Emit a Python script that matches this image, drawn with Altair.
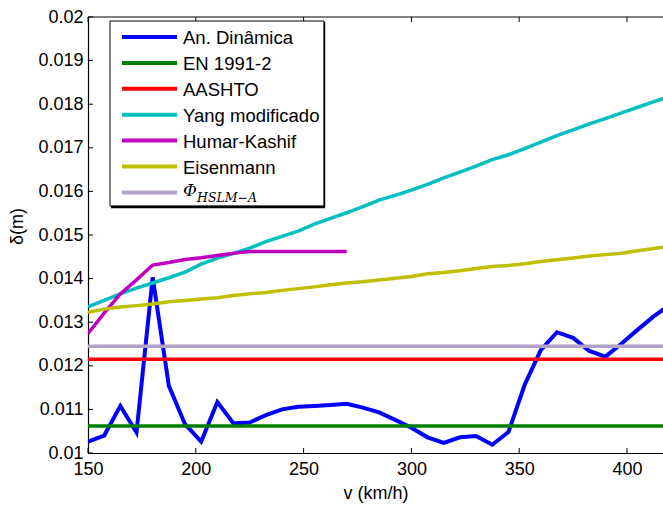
import altair as alt
import pandas as pd

# ---------------- data ----------------
speed = [150, 157.5, 165, 172.5, 180, 187.5, 195, 202.5, 210, 217.5, 225, 232.5,
         240, 247.5, 255, 262.5, 270, 277.5, 285, 292.5, 300, 307.5, 315, 322.5,
         330, 337.5, 345, 352.5, 360, 367.5, 375, 382.5, 390, 397.5, 405, 412.5, 420]

an_dinamica = [0.01026, 0.01040, 0.01108, 0.01047, 0.01403, 0.01154, 0.01066, 0.01026,
               0.01117, 0.01068, 0.01070, 0.01087, 0.01100, 0.01106, 0.01108, 0.01110,
               0.01113, 0.01104, 0.01093, 0.01076, 0.01058, 0.01036, 0.01023, 0.01036,
               0.01039, 0.01019, 0.01048, 0.01156, 0.01236, 0.01277, 0.01264, 0.01234,
               0.01221, 0.01251, 0.01283, 0.01314, 0.01340]

yang = [0.01335, 0.01350, 0.01365, 0.01378, 0.01390, 0.01402, 0.01415, 0.01433,
        0.01447, 0.01458, 0.01470, 0.01485, 0.01497, 0.01509, 0.01525, 0.01538,
        0.01551, 0.01565, 0.01580, 0.01591, 0.01603, 0.01616, 0.01631, 0.01644,
        0.01658, 0.01673, 0.01684, 0.01698, 0.01713, 0.01728, 0.01741, 0.01755,
        0.01767, 0.01780, 0.01793, 0.01806, 0.01818]

eisenmann = [0.01323, 0.01330, 0.01335, 0.01338, 0.01342, 0.01347, 0.01350, 0.01353,
             0.01356, 0.01361, 0.01365, 0.01368, 0.01373, 0.01377, 0.01381, 0.01386,
             0.01390, 0.01393, 0.01397, 0.01401, 0.01405, 0.01411, 0.01414, 0.01418,
             0.01423, 0.01428, 0.01430, 0.01434, 0.01439, 0.01443, 0.01447, 0.01452,
             0.01455, 0.01458, 0.01464, 0.01469, 0.01474]

humar_speed = [150, 157.5, 165, 172.5, 180, 187.5, 195, 202.5, 210, 217.5, 225,
               232.5, 240, 247.5, 255, 262.5, 270]
humar = [0.01274, 0.01321, 0.01365, 0.01397, 0.01431, 0.01437, 0.01444, 0.01448,
         0.01453, 0.01458, 0.01462, 0.01462, 0.01462, 0.01462, 0.01462, 0.01462, 0.01462]

const_speed = [150, 420]
en1991 = [0.01062, 0.01062]
aashto = [0.01215, 0.01215]
hslm = [0.01245, 0.01245]

series_names = ["An. Dinâmica", "EN 1991-2", "AASHTO", "Yang modificado",
                "Humar-Kashif", "Eisenmann", "HSLM-A"]
series_colors = ["#0000ff", "#008000", "#ff0000", "#00bfbf", "#bf00bf", "#bfbf00", "#b3a2c7"]
series_widths = [4, 3.5, 3.5, 3.5, 3.5, 3.5, 3.5]

x_ticks = [150, 200, 250, 300, 350, 400]
y_ticks = [0.010, 0.011, 0.012, 0.013, 0.014, 0.015, 0.016, 0.017, 0.018, 0.019, 0.020]

# ---------------- build tables ----------------
series_data = [
    (speed, an_dinamica), (const_speed, en1991), (const_speed, aashto),
    (speed, yang), (humar_speed, humar), (speed, eisenmann), (const_speed, hslm)
]
rows = []
for name, (xs, ys) in zip(series_names, series_data):
    for xv, yv in zip(xs, ys):
        rows.append({"name": name, "v": xv, "d": yv})
df = pd.DataFrame(rows)

W, H = 575, 436
XMAX = 416.7

xscale = alt.Scale(domain=[150, XMAX], nice=False, zero=False)
yscale = alt.Scale(domain=[0.01, 0.02], nice=False, zero=False)

FONT = "Liberation Sans"

base = alt.Chart(df)
layers = []

# axes layer (invisible points just to carry axes)
axis_layer = alt.Chart(pd.DataFrame({"v": [150], "d": [0.01]})).mark_point(opacity=0).encode(
    x=alt.X("v:Q", scale=xscale,
            axis=alt.Axis(values=x_ticks, title="v (km/h)", ticks=False, tickSize=0,
                          grid=False, labelPadding=7, labelFontSize=18, labelFont=FONT,
                          labelColor="black", domainColor="black", domainWidth=1.2,
                          titleFont=FONT, titleFontSize=18, titleFontWeight="normal",
                          titleColor="black", titleY=40, titleBaseline="middle",
                          labelFlush=False)),
    y=alt.Y("d:Q", scale=yscale,
            axis=alt.Axis(values=y_ticks, title="δ(m)", ticks=False, tickSize=0,
                          grid=False, labelPadding=5, labelFontSize=18, labelFont=FONT,
                          labelColor="black", domainColor="black", domainWidth=1.2,
                          labelExpr="datum.value == 0.02 ? '0.02' : datum.value == 0.01 ? '0.01' : format(datum.value, '.3f')",
                          titleFont=FONT, titleFontSize=18, titleFontWeight="normal",
                          titleColor="black", titleX=-62, titleY=209,
                          titleBaseline="bottom", labelFlush=False)),
)
layers.append(axis_layer)

# top border
top_border = alt.Chart(pd.DataFrame({"a": [0]})).mark_rule(color="black", strokeWidth=1.2).encode(
    x=alt.value(0), x2=alt.value(W), y=alt.value(0))
layers.append(top_border)

# inward ticks
xt = pd.DataFrame({"v": x_ticks})
layers.append(alt.Chart(xt).mark_rule(color="black", strokeWidth=1).encode(
    x=alt.X("v:Q", scale=xscale), y=alt.value(H), y2=alt.value(H - 5)))
layers.append(alt.Chart(xt).mark_rule(color="black", strokeWidth=1).encode(
    x=alt.X("v:Q", scale=xscale), y=alt.value(0), y2=alt.value(5)))
yt = pd.DataFrame({"d": y_ticks})
layers.append(alt.Chart(yt).mark_rule(color="black", strokeWidth=1).encode(
    y=alt.Y("d:Q", scale=yscale), x=alt.value(0), x2=alt.value(5)))

# series lines
for name, color, sw in zip(series_names, series_colors, series_widths):
    layers.append(
        base.transform_filter(alt.datum.name == name)
        .mark_line(color=color, strokeWidth=sw, clip=True, strokeJoin="miter")
        .encode(x=alt.X("v:Q", scale=xscale), y=alt.Y("d:Q", scale=yscale),
                order="v:Q")
    )

# ---------------- manual legend ----------------
leg_labels = ["An. Dinâmica", "EN 1991-2", "AASHTO", "Yang modificado",
              "Humar-Kashif", "Eisenmann", ""]
leg = pd.DataFrame({"label": leg_labels, "color": series_colors, "i": list(range(7))})

LX0, LX1, LY0, LY1 = 22, 236, 4, 189
layers.append(alt.Chart(pd.DataFrame({"a": [0]})).mark_rect(
    fill="white", stroke="black", strokeWidth=1).encode(
    x=alt.value(LX0), x2=alt.value(LX1), y=alt.value(LY0), y2=alt.value(LY1)))
layers.append(alt.Chart(pd.DataFrame({"a": [0]})).mark_rule(
    color="black", strokeWidth=2.5).encode(
    x=alt.value(LX0 + 1), x2=alt.value(LX1 + 1), y=alt.value(LY1 + 1)))
layers.append(alt.Chart(pd.DataFrame({"a": [0]})).mark_rule(
    color="black", strokeWidth=1.5).encode(
    x=alt.value(LX1 + 0.5), y=alt.value(LY0 + 1), y2=alt.value(LY1 + 1)))

leg_base = alt.Chart(leg).transform_calculate(ly="20 + 25.9 * datum.i")
layers.append(leg_base.mark_rule(strokeWidth=4).encode(
    x=alt.value(34), x2=alt.value(89),
    y=alt.Y("ly:Q", scale=None),
    color=alt.Color("color:N", scale=None)))
layers.append(leg_base.mark_text(align="left", baseline="middle", font=FONT,
                                 fontSize=18.5, color="black", dy=1).encode(
    x=alt.value(95), y=alt.Y("ly:Q", scale=None), text="label:N"))

phi = pd.DataFrame({"t": ["Φ"], "s": ["HSLM−A"]})
layers.append(alt.Chart(phi).mark_text(align="left", baseline="middle", font="DejaVu Serif",
                                       fontStyle="italic", fontSize=17, color="black").encode(
    x=alt.value(95), y=alt.value(174), text="t:N"))
layers.append(alt.Chart(phi).mark_text(align="left", baseline="middle", font="DejaVu Serif",
                                       fontStyle="italic", fontSize=12.5, color="black").encode(
    x=alt.value(109), y=alt.value(181), text="s:N"))

chart = alt.layer(*layers).properties(
    width=W, height=H,
    autosize=alt.AutoSizeParams(type="none"),
    padding={"left": 88, "top": 17, "right": 0, "bottom": 52},
    background="white",
).configure_view(stroke=None)

chart.save("out.html", embed_options={"renderer": "svg", "actions": False})
